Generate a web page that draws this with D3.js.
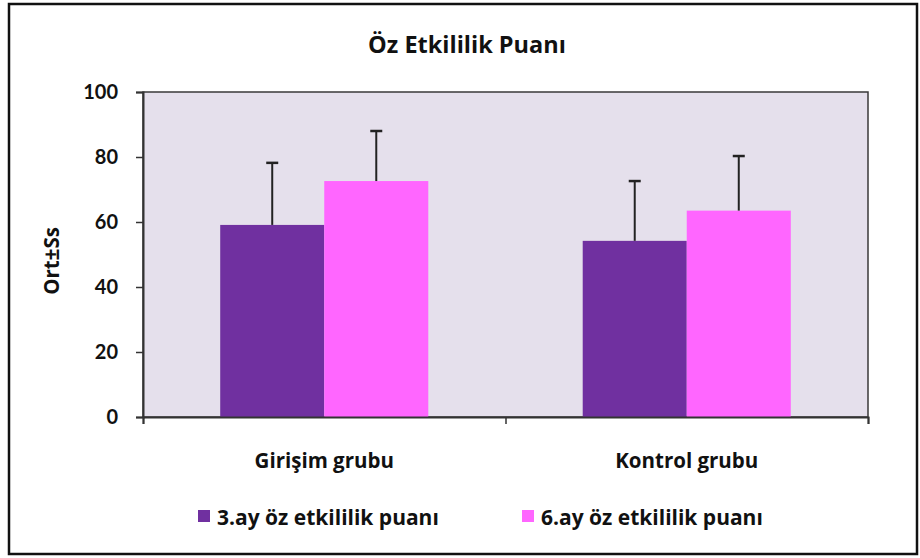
<!DOCTYPE html>
<meta charset="utf-8">

<script src="https://d3js.org/d3.v7.min.js"></script>

<style>
  body { margin: 0; background: white; }
  text { font-family: "Open Sans", Lato, sans-serif; font-weight: bold; fill: #111; }
</style>

<div id="chart"></div>

<script>
  // data
  const groups = ["Girişim grubu", "Kontrol grubu"];
  const seriesNames = ["3.ay öz etkililik puanı", "6.ay öz etkililik puanı"];
  const means3 = [59.1, 54.2];
  const means6 = [72.6, 63.5];
  const sd3 = [19.1, 18.4];
  const sd6 = [15.4, 16.8];
  const yTicks = [0, 20, 40, 60, 80, 100];
  const colors = ["#7030A0", "#FF66FF"];

  const W = 920, H = 558;
  const margin = { top: 92, right: 52, bottom: 141, left: 143 };
  const width = W - margin.left - margin.right,
    height = H - margin.top - margin.bottom;

  const svg = d3.select("#chart")
    .append("svg")
    .attr("width", W)
    .attr("height", H);

  // outer frame
  svg.append("rect")
    .attr("x", 9).attr("y", 4)
    .attr("width", 908).attr("height", 550)
    .attr("fill", "white")
    .attr("stroke", "#111")
    .attr("stroke-width", 2.5);

  svg.append("text")
    .attr("x", 467).attr("y", 53)
    .attr("text-anchor", "middle")
    .style("font-size", "23.5px")
    .text("Öz Etkililik Puanı");

  const g = svg.append("g")
    .attr("transform", `translate(${margin.left},${margin.top})`);

  const x0 = d3.scaleBand().domain(groups).range([0, width])
    .paddingInner(0.426).paddingOuter(0.213);
  const x1 = d3.scaleBand().domain([0, 1]).range([0, x0.bandwidth()]);
  const y = d3.scaleLinear().domain([0, 100]).range([height, 0]);

  // plot area
  g.append("rect")
    .attr("width", width).attr("height", height)
    .attr("fill", "#E5E0EC")
    .attr("stroke", "#3a3a3a")
    .attr("stroke-width", 1.5);

  const rows = groups.map((name, i) => ({
    name,
    vals: [
      { s: 0, m: means3[i], sd: sd3[i] },
      { s: 1, m: means6[i], sd: sd6[i] }
    ]
  }));

  const grp = g.selectAll(".grp")
    .data(rows)
    .join("g")
    .attr("transform", d => `translate(${x0(d.name)},0)`);

  grp.selectAll("rect")
    .data(d => d.vals)
    .join("rect")
    .attr("x", d => x1(d.s))
    .attr("y", d => y(d.m))
    .attr("width", x1.bandwidth())
    .attr("height", d => height - y(d.m))
    .attr("fill", d => colors[d.s]);

  // error bars (upper only)
  grp.selectAll(".err")
    .data(d => d.vals)
    .join("line")
    .attr("x1", d => x1(d.s) + x1.bandwidth() / 2)
    .attr("x2", d => x1(d.s) + x1.bandwidth() / 2)
    .attr("y1", d => y(d.m))
    .attr("y2", d => y(d.m + d.sd))
    .attr("stroke", "#222").attr("stroke-width", 2);
  grp.selectAll(".cap")
    .data(d => d.vals)
    .join("line")
    .attr("x1", d => x1(d.s) + x1.bandwidth() / 2 - 6)
    .attr("x2", d => x1(d.s) + x1.bandwidth() / 2 + 6)
    .attr("y1", d => y(d.m + d.sd))
    .attr("y2", d => y(d.m + d.sd))
    .attr("stroke", "#222").attr("stroke-width", 2.5);

  // y axis
  const yAxis = g.append("g")
    .call(d3.axisLeft(y).tickValues(yTicks).tickSize(7).tickPadding(18));
  yAxis.select(".domain").attr("stroke", "#333").attr("stroke-width", 2);
  yAxis.selectAll(".tick line").attr("stroke", "#333").attr("stroke-width", 1.5);
  yAxis.selectAll(".tick text")
    .style("font-size", "20px").style("font-family", "Lato, sans-serif")
    .style("font-weight", "bold").attr("fill", "#111");

  // x axis with boundary ticks
  const xb = d3.scaleLinear().domain([0, groups.length]).range([0, width]);
  const xAxis = g.append("g")
    .attr("transform", `translate(0,${height})`)
    .call(d3.axisBottom(xb).tickValues(d3.range(groups.length + 1)).tickSize(7).tickFormat(""));
  xAxis.select(".domain").attr("stroke", "#333").attr("stroke-width", 2);
  xAxis.selectAll(".tick line").attr("stroke", "#333").attr("stroke-width", 1.5);

  g.selectAll(".cat")
    .data(groups)
    .join("text")
    .attr("x", d => x0(d) + x0.bandwidth() / 2)
    .attr("y", height + 51)
    .attr("text-anchor", "middle")
    .style("font-size", "20.5px")
    .text(d => d);

  svg.append("text")
    .attr("transform", "translate(59,261) rotate(-90)")
    .attr("text-anchor", "middle")
    .style("font-size", "20.5px")
    .text("Ort±Ss");

  // legend
  const legX = [198, 522];
  const leg = svg.selectAll(".leg")
    .data(seriesNames)
    .join("g")
    .attr("transform", (d, i) => `translate(${legX[i]},510)`);
  leg.append("rect").attr("width", 12).attr("height", 12)
    .attr("fill", (d, i) => colors[i]);
  leg.append("text").attr("x", 19).attr("y", 15)
    .style("font-size", "21px")
    .text(d => d);
</script>
